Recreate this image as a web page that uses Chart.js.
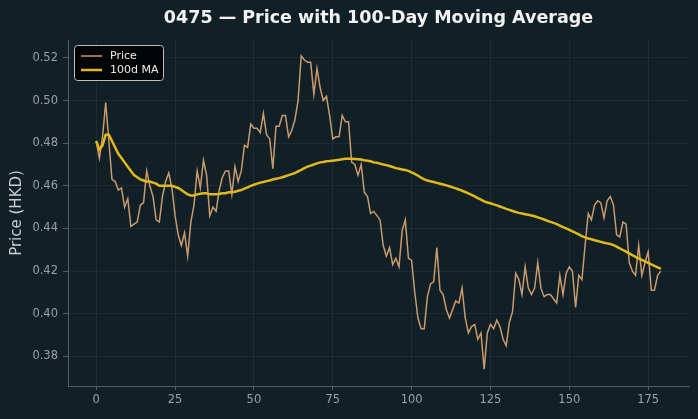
<!DOCTYPE html>
<html>
<head>
<meta charset="utf-8">
<script src="https://cdn.jsdelivr.net/npm/chart.js@4"></script>
<style>
  html, body { margin: 0; padding: 0; background: #111f27; }
  #wrap { width: 698px; height: 419px; }
</style>
</head>
<body>
<div id="wrap"><canvas id="chart" width="698" height="419"></canvas></div>
<script>
const title = "0475 — Price with 100-Day Moving Average";
const yLabel = "Price (HKD)";
const seriesNames = ["Price", "100d MA"];

const price = [
  0.481, 0.473, 0.483, 0.499, 0.481, 0.463, 0.462, 0.458, 0.459, 0.450,
  0.454, 0.441, 0.442, 0.443, 0.451, 0.452, 0.467, 0.460, 0.455, 0.444,
  0.443, 0.455, 0.462, 0.466, 0.459, 0.446, 0.437, 0.432, 0.438, 0.427,
  0.443, 0.451, 0.467, 0.459, 0.472, 0.465, 0.446, 0.450, 0.448, 0.458,
  0.464, 0.467, 0.467, 0.456, 0.469, 0.462, 0.467, 0.479, 0.478, 0.489,
  0.487, 0.487, 0.485, 0.494, 0.484, 0.482, 0.468, 0.488, 0.488, 0.493,
  0.493, 0.483, 0.486, 0.491, 0.500, 0.521, 0.519, 0.518, 0.518, 0.503,
  0.515, 0.506, 0.500, 0.502, 0.493, 0.482, 0.483, 0.483, 0.493, 0.490,
  0.490, 0.471, 0.470, 0.465, 0.470, 0.457, 0.455, 0.447, 0.448, 0.446,
  0.444, 0.432, 0.427, 0.431, 0.423, 0.426, 0.422, 0.439, 0.444, 0.426,
  0.425, 0.410, 0.398, 0.393, 0.393, 0.408, 0.414, 0.415, 0.431, 0.411,
  0.409, 0.402, 0.398, 0.402, 0.406, 0.405, 0.412, 0.398, 0.391, 0.394,
  0.395, 0.388, 0.391, 0.374, 0.391, 0.395, 0.393, 0.397, 0.394, 0.388,
  0.385, 0.396, 0.401, 0.419, 0.416, 0.409, 0.422, 0.412, 0.409, 0.412,
  0.424, 0.412, 0.408, 0.409, 0.409, 0.407, 0.405, 0.418, 0.409, 0.419,
  0.422, 0.420, 0.403, 0.418, 0.416, 0.432, 0.447, 0.444, 0.451, 0.453,
  0.452, 0.445, 0.453, 0.455, 0.451, 0.437, 0.436, 0.443, 0.442, 0.424,
  0.420, 0.418, 0.432, 0.418, 0.424, 0.429, 0.411, 0.411, 0.418, 0.420
];

const ma100 = [
  0.481, 0.477, 0.479, 0.484, 0.484, 0.481, 0.478, 0.475, 0.473, 0.471,
  0.469, 0.467, 0.465, 0.464, 0.463, 0.4625, 0.462, 0.462, 0.4615, 0.461,
  0.460, 0.460, 0.460, 0.460, 0.460, 0.4595, 0.459, 0.458, 0.457, 0.456,
  0.4555, 0.4555, 0.456, 0.4563, 0.4565, 0.4565, 0.456, 0.456, 0.456, 0.4562,
  0.4565, 0.4565, 0.457, 0.457, 0.4572, 0.4577, 0.458, 0.4587, 0.4593, 0.460,
  0.4605, 0.461, 0.4615, 0.4618, 0.4622, 0.4625, 0.463, 0.4633, 0.4636, 0.464,
  0.4645, 0.465, 0.4655, 0.466, 0.4668, 0.4675, 0.4683, 0.469, 0.4695, 0.470,
  0.4705, 0.471, 0.4712, 0.4715, 0.4716, 0.4718, 0.472, 0.4722, 0.4725, 0.4727,
  0.4727, 0.4727, 0.4726, 0.4725, 0.4723, 0.472, 0.4718, 0.4715, 0.471, 0.4708,
  0.4704, 0.470, 0.4697, 0.4693, 0.4688, 0.4683, 0.468, 0.4677, 0.4674, 0.467,
  0.4663, 0.4656, 0.4648, 0.4638, 0.463, 0.4625, 0.4621, 0.4618, 0.4614, 0.461,
  0.4606, 0.4602, 0.4598, 0.4593, 0.4588, 0.4583, 0.4577, 0.4571, 0.4564, 0.4557,
  0.455, 0.4542, 0.4535, 0.4527, 0.4522, 0.4518, 0.4513, 0.4508, 0.4503, 0.4498,
  0.4492, 0.4487, 0.4482, 0.4477, 0.4473, 0.447, 0.4467, 0.4464, 0.4461, 0.4457,
  0.4452, 0.4447, 0.4442, 0.4436, 0.4431, 0.4426, 0.442, 0.4413, 0.4406, 0.44,
  0.4393, 0.4386, 0.4379, 0.4372, 0.4364, 0.4358, 0.4353, 0.4349, 0.4345, 0.4341,
  0.4337, 0.4333, 0.433, 0.4327, 0.4322, 0.4315, 0.4307, 0.4299, 0.4291, 0.4283,
  0.4275, 0.4267, 0.426, 0.4253, 0.4246, 0.4239, 0.4232, 0.4225, 0.4218, 0.421
];

const xTicks = [0, 25, 50, 75, 100, 125, 150, 175];
const yTicks = [0.38, 0.40, 0.42, 0.44, 0.46, 0.48, 0.50, 0.52];

const priceColor = "#c99a6c";
const maColor = "#e2b91c";
const tickColor = "#9aa0a4";
const gridColor = "rgba(255,255,255,0.05)";
const spineColor = "#5a5a5a";
const font = "'DejaVu Sans', sans-serif";

const toXY = arr => arr.map((v, i) => ({ x: i, y: v }));

// title + legend drawn on the canvas, matplotlib-style
const overlay = {
  id: "overlay",
  afterDraw(chart) {
    const ctx = chart.ctx;
    const area = chart.chartArea;
    ctx.save();
    ctx.fillStyle = "#f2f2f2";
    ctx.font = "bold 17.5px " + font;
    ctx.textAlign = "center";
    ctx.textBaseline = "middle";
    ctx.fillText(title, (area.left + area.right) / 2, 18);

    const lx = 74, ly = 45, lw = 89, lh = 35;
    ctx.beginPath();
    ctx.roundRect(lx + 0.5, ly + 0.5, lw, lh, 3);
    ctx.fillStyle = "rgba(0,0,0,0.85)";
    ctx.fill();
    ctx.strokeStyle = "#bdbdbd";
    ctx.lineWidth = 1;
    ctx.stroke();

    const items = [[seriesNames[0], priceColor, 1.5], [seriesNames[1], maColor, 2.5]];
    ctx.font = "11px " + font;
    ctx.textAlign = "left";
    items.forEach((it, k) => {
      const yy = ly + 11 + k * 14;
      ctx.beginPath();
      ctx.moveTo(lx + 7, yy);
      ctx.lineTo(lx + 28, yy);
      ctx.strokeStyle = it[1];
      ctx.lineWidth = it[2];
      ctx.stroke();
      ctx.fillStyle = "#eeeeee";
      ctx.fillText(it[0], lx + 36, yy);
    });
    ctx.restore();
  }
};

const bg = {
  id: "bg",
  beforeDraw(chart) {
    const ctx = chart.ctx;
    ctx.save();
    ctx.fillStyle = "#111f27";
    ctx.fillRect(0, 0, chart.width, chart.height);
    ctx.restore();
  }
};

new Chart(document.getElementById("chart").getContext("2d"), {
  type: "line",
  data: {
    datasets: [
      { label: seriesNames[0], data: toXY(price), borderColor: priceColor, borderWidth: 1.5, pointRadius: 0, tension: 0, order: 2 },
      { label: seriesNames[1], data: toXY(ma100), borderColor: maColor, borderWidth: 2.5, pointRadius: 0, tension: 0, order: 1 }
    ]
  },
  options: {
    responsive: false,
    animation: false,
    layout: { padding: { left: 0, right: 9, top: 40, bottom: 0 } },
    plugins: { legend: { display: false }, title: { display: false }, tooltip: { enabled: false } },
    scales: {
      x: {
        type: "linear",
        min: -8.95,
        max: 187.95,
        afterBuildTicks: s => { s.ticks = xTicks.map(v => ({ value: v })); },
        afterFit: s => { s.height = 33; },
        ticks: { color: tickColor, font: { family: font, size: 11.5 }, padding: 3, maxRotation: 0 },
        grid: { color: gridColor, tickColor: spineColor, tickLength: 4 },
        border: { color: spineColor, width: 1 }
      },
      y: {
        min: 0.3661,
        max: 0.5284,
        afterBuildTicks: s => { s.ticks = yTicks.map(v => ({ value: v })); },
        afterFit: s => { s.width = 68; },
        ticks: { color: tickColor, font: { family: font, size: 11.5 }, padding: 5, callback: v => v.toFixed(2) },
        grid: { color: gridColor, tickColor: spineColor, tickLength: 5 },
        border: { color: spineColor, width: 1 },
        title: { display: true, text: yLabel, color: "#c9cdd0", font: { family: font, size: 15 }, padding: { top: 8 } }
      }
    }
  },
  plugins: [bg, overlay]
});
</script>
</body>
</html>
